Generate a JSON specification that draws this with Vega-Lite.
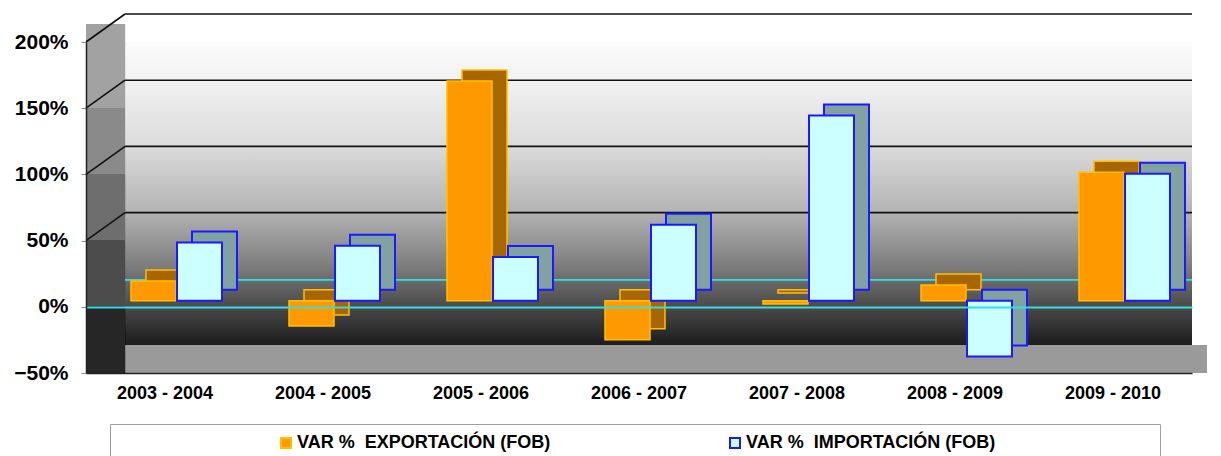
{
  "$schema": "https://vega.github.io/schema/vega-lite/v6.json",
  "width": 1106,
  "height": 331,
  "autosize": {"type": "none"},
  "padding": {"left": 86, "top": 42, "right": 29, "bottom": 83},
  "background": "white",
  "config": {
    "font": "Liberation Sans",
    "view": {
      "stroke": null,
      "fill": {
        "gradient": "linear", "x1": 0, "y1": 0, "x2": 0, "y2": 1,
        "stops": [
          {"offset": 0, "color": "#fbfbfb"},
          {"offset": 0.11, "color": "#f2f2f2"},
          {"offset": 0.31, "color": "#dcdcdc"},
          {"offset": 0.51, "color": "#b4b4b4"},
          {"offset": 0.68, "color": "#7c7c7c"},
          {"offset": 0.8, "color": "#4a4a4a"},
          {"offset": 0.9, "color": "#222222"},
          {"offset": 1, "color": "#0e0e0e"}
        ]
      }
    },
    "legend": {
      "orient": "none",
      "legendX": 24,
      "legendY": 382,
      "direction": "horizontal",
      "padding": 10,
      "strokeColor": "#a0a0a0",
      "fillColor": "white",
      "symbolType": "square",
      "symbolSize": 100,
      "symbolStrokeWidth": 2,
      "symbolOffset": 157,
      "columnPadding": 18,
      "labelFont": "Liberation Sans",
      "labelFontWeight": "bold",
      "labelFontSize": 18,
      "labelColor": "black",
      "labelLimit": 400,
      "labelOffset": 2,
      "titleOrient": "right",
      "titlePadding": 155,
      "titleFontSize": 15
    }
  },
  "data": {
    "values": [
      {"periodo": "2003 - 2004", "serie": "VAR %\u00a0 EXPORTACIÓN (FOB)", "valor": 0.15},
      {"periodo": "2004 - 2005", "serie": "VAR %\u00a0 EXPORTACIÓN (FOB)", "valor": -0.19},
      {"periodo": "2005 - 2006", "serie": "VAR %\u00a0 EXPORTACIÓN (FOB)", "valor": 1.66},
      {"periodo": "2006 - 2007", "serie": "VAR %\u00a0 EXPORTACIÓN (FOB)", "valor": -0.295},
      {"periodo": "2007 - 2008", "serie": "VAR %\u00a0 EXPORTACIÓN (FOB)", "valor": -0.025},
      {"periodo": "2008 - 2009", "serie": "VAR %\u00a0 EXPORTACIÓN (FOB)", "valor": 0.12},
      {"periodo": "2009 - 2010", "serie": "VAR %\u00a0 EXPORTACIÓN (FOB)", "valor": 0.97},
      {"periodo": "2003 - 2004", "serie": "VAR %\u00a0 IMPORTACIÓN (FOB)", "valor": 0.44},
      {"periodo": "2004 - 2005", "serie": "VAR %\u00a0 IMPORTACIÓN (FOB)", "valor": 0.415},
      {"periodo": "2005 - 2006", "serie": "VAR %\u00a0 IMPORTACIÓN (FOB)", "valor": 0.33},
      {"periodo": "2006 - 2007", "serie": "VAR %\u00a0 IMPORTACIÓN (FOB)", "valor": 0.575},
      {"periodo": "2007 - 2008", "serie": "VAR %\u00a0 IMPORTACIÓN (FOB)", "valor": 1.4},
      {"periodo": "2008 - 2009", "serie": "VAR %\u00a0 IMPORTACIÓN (FOB)", "valor": -0.42},
      {"periodo": "2009 - 2010", "serie": "VAR %\u00a0 IMPORTACIÓN (FOB)", "valor": 0.96}
    ]
  },
  "encoding": {
    "x": {
      "field": "periodo", "type": "nominal",
      "scale": {"domain": ["2003 - 2004", "2004 - 2005", "2005 - 2006", "2006 - 2007", "2007 - 2008", "2008 - 2009", "2009 - 2010"], "paddingInner": 0, "paddingOuter": 0},
      "axis": {
        "title": null, "labelAngle": 0, "ticks": false,
        "domainColor": "#222222", "domainWidth": 1.5, "zindex": 1,
        "labelFont": "Liberation Sans", "labelFontWeight": "bold",
        "labelFontSize": 18, "labelColor": "black", "labelPadding": 11
      }
    },
    "y": {
      "field": "valor", "type": "quantitative",
      "scale": {"domain": [-0.5, 2], "nice": false, "zero": true},
      "axis": {
        "title": null, "values": [-0.5, 0, 0.5, 1, 1.5, 2], "format": ".0%",
        "grid": true, "zindex": 1,
        "gridColor": {"condition": {"test": "datum.value === 0", "value": "#33dede"}, "value": "transparent"},
        "gridWidth": 1.8,
        "domain": true, "domainColor": "#222222", "domainWidth": 1.5,
        "tickColor": "#888888", "tickSize": 5,
        "labelFont": "Liberation Sans", "labelFontWeight": "bold",
        "labelFontSize": 21, "labelColor": "black", "labelPadding": 13
      }
    }
  },
  "layer": [
    {
      "mark": {"type": "rule", "stroke": "#9a9a9a", "strokeWidth": 28, "yOffset": -14, "clip": false},
      "encoding": {
        "x": {"datum": "2003 - 2004", "bandPosition": 0.12},
        "x2": {"datum": "2009 - 2010", "bandPosition": 1.09},
        "y": {"datum": -0.5}
      }
    },
    {
      "mark": {"type": "rule", "stroke": "#a2a2a2", "strokeWidth": 39, "yOffset": -18, "clip": false},
      "encoding": {"x": {"datum": "2003 - 2004", "bandPosition": 0.1235}, "y": {"datum": 2}, "y2": {"datum": 1.5}}
    },
    {
      "mark": {"type": "rule", "stroke": "#8a8a8a", "strokeWidth": 39, "clip": false},
      "encoding": {"x": {"datum": "2003 - 2004", "bandPosition": 0.1235}, "y": {"datum": 1.5}, "y2": {"datum": 1}}
    },
    {
      "mark": {"type": "rule", "stroke": "#6e6e6e", "strokeWidth": 39, "clip": false},
      "encoding": {"x": {"datum": "2003 - 2004", "bandPosition": 0.1235}, "y": {"datum": 1}, "y2": {"datum": 0.5}}
    },
    {
      "mark": {"type": "rule", "stroke": "#4c4c4c", "strokeWidth": 39, "clip": false},
      "encoding": {"x": {"datum": "2003 - 2004", "bandPosition": 0.1235}, "y": {"datum": 0.5}, "y2": {"datum": 0}}
    },
    {
      "mark": {"type": "rule", "stroke": "#262626", "strokeWidth": 39, "clip": false},
      "encoding": {"x": {"datum": "2003 - 2004", "bandPosition": 0.1235}, "y": {"datum": 0}, "y2": {"datum": -0.5}}
    },
    {
      "data": {"values": [{"g": 0.5}, {"g": 1}, {"g": 1.5}, {"g": 2}]},
      "mark": {"type": "rule", "stroke": "#111111", "strokeWidth": 1.6, "yOffset": -28, "y2Offset": -28, "clip": false},
      "encoding": {
        "x": {"datum": "2003 - 2004", "bandPosition": 0.247},
        "x2": {"datum": "2009 - 2010", "bandPosition": 1.0},
        "y": {"field": "g", "type": "quantitative"},
        "y2": {"field": "g"}
      }
    },
    {
      "data": {"values": [{"g": 0.5}, {"g": 1}, {"g": 1.5}, {"g": 2}]},
      "mark": {"type": "rule", "stroke": "#111111", "strokeWidth": 1.6, "y2Offset": -28, "clip": false},
      "encoding": {
        "x": {"datum": "2003 - 2004", "bandPosition": 0},
        "x2": {"datum": "2003 - 2004", "bandPosition": 0.247},
        "y": {"field": "g", "type": "quantitative"},
        "y2": {"field": "g"}
      }
    },
    {
      "data": {"values": [{"g": 0}]},
      "mark": {"type": "rule", "stroke": "#33dede", "strokeWidth": 1.8, "yOffset": -27, "y2Offset": -27, "clip": false},
      "encoding": {
        "x": {"datum": "2003 - 2004", "bandPosition": 0.247},
        "x2": {"datum": "2009 - 2010", "bandPosition": 1.0},
        "y": {"field": "g", "type": "quantitative"},
        "y2": {"field": "g"}
      }
    },
    {
      "transform": [{"filter": "indexof(datum.serie, 'EXPORT') >= 0"}],
      "mark": {"type": "bar", "width": 45, "xOffset": 3.5, "yOffset": -17, "y2Offset": -17,
               "fill": "#a86600", "stroke": "#ffc000", "strokeWidth": 1.5}
    },
    {
      "transform": [{"filter": "indexof(datum.serie, 'EXPORT') >= 0"}],
      "mark": {"type": "bar", "width": 45, "xOffset": -11.5, "yOffset": -6, "y2Offset": -6, "strokeWidth": 1.5},
      "encoding": {
        "fill": {"field": "serie", "type": "nominal", "title": "\u00a0",
                 "scale": {"domain": ["VAR %\u00a0 EXPORTACIÓN (FOB)", "VAR %\u00a0 IMPORTACIÓN (FOB)"], "range": ["#ff9900", "#ccffff"]}},
        "stroke": {"field": "serie", "type": "nominal", "title": "\u00a0",
                 "scale": {"domain": ["VAR %\u00a0 EXPORTACIÓN (FOB)", "VAR %\u00a0 IMPORTACIÓN (FOB)"], "range": ["#ffc000", "#1a1aff"]}}
      }
    },
    {
      "transform": [{"filter": "indexof(datum.serie, 'IMPORT') >= 0"}],
      "mark": {"type": "bar", "width": 45, "xOffset": 49.5, "yOffset": -17, "y2Offset": -17,
               "fill": "#82a2a2", "stroke": "#1a1aff", "strokeWidth": 2}
    },
    {
      "transform": [{"filter": "indexof(datum.serie, 'IMPORT') >= 0"}],
      "mark": {"type": "bar", "width": 45, "xOffset": 34.5, "yOffset": -6, "y2Offset": -6, "strokeWidth": 2},
      "encoding": {
        "fill": {"field": "serie", "type": "nominal", "title": "\u00a0"},
        "stroke": {"field": "serie", "type": "nominal", "title": "\u00a0"}
      }
    }
  ]
}
